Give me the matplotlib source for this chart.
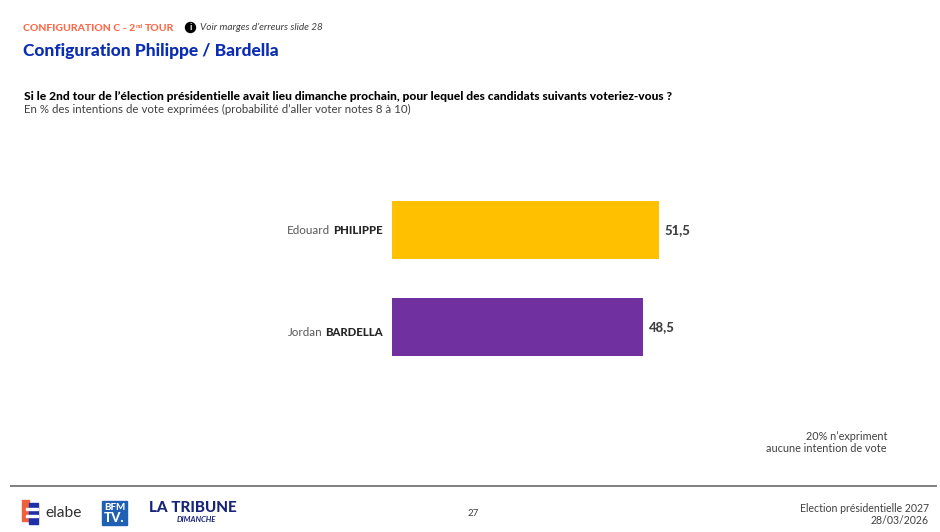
import matplotlib
matplotlib.use('Agg')
import matplotlib.pyplot as plt
from matplotlib.patches import Rectangle, Circle

first_names = ['Edouard', 'Jordan']
last_names = ['PHILIPPE', 'BARDELLA']
scores = [51.5, 48.5]
score_labels = ['51,5', '48,5']
bar_colors = ['#FFC000', '#7030A0']

plt.rcParams['font.family'] = ['Lato', 'DejaVu Sans']

W, H = 940, 532
fig = plt.figure(figsize=(W / 100, H / 100), dpi=100)

# overlay in pixel coords for the slide furniture
bg = fig.add_axes([0, 0, 1, 1])
bg.set_xlim(0, W)
bg.set_ylim(H, 0)
bg.axis('off')

# bars, 100 units = 518 px
ax = fig.add_axes([392 / W, 1 - 375.5 / H, 518.4 / W, 194 / H])
ax.barh(range(2), scores, height=0.598, color=bar_colors)
ax.set_xlim(0, 100)
ax.set_ylim(1.5, -0.5)
ax.axis('off')
ax.patch.set_alpha(0)

for i, val in enumerate(scores):
    ax.annotate(score_labels[i], (val, i), xytext=(4, 0), textcoords='offset points',
                va='center', ha='left', fontsize=9.4, fontweight='black', color='#404040')

# names: bold part right aligned, first name placed left of it
fig.canvas.draw()
rend = fig.canvas.get_renderer()
name_y = [231, 332]
for i, name in enumerate(last_names):
    t = bg.text(383, name_y[i], name, ha='right', va='center', fontsize=8.1, fontweight='black', color='#262626')
    w = t.get_window_extent(rend).width
    bg.text(383 - w - 3, name_y[i], first_names[i], ha='right', va='center', fontsize=8.4, color='#595959')

# header
bg.text(23, 28.5, 'CONFIGURATION C - 2', fontsize=7.5, fontweight='black', color='#FF6B4A', va='center')
bg.text(136, 26.5, 'nd', fontsize=4.6, fontweight='bold', color='#FF6B4A', va='center')
bg.text(145, 28.5, 'TOUR', fontsize=7.5, fontweight='black', color='#FF6B4A', va='center')
bg.add_patch(Circle((190.5, 27.5), 5, color='black'))
bg.text(190.5, 27.5, 'i', fontsize=6.5, fontweight='bold', color='white', ha='center', va='center')
bg.text(200, 27, "Voir marges d\u2019erreurs slide 28", fontsize=7.2, style='italic', color='#404040', va='center')
bg.text(23, 51, 'Configuration Philippe / Bardella', fontsize=12.55, fontweight='black', color='#0A2DB4', va='center')

bg.text(24, 97, "Si le 2nd tour de l\u2019\u00e9lection pr\u00e9sidentielle avait lieu dimanche prochain, "
        "pour lequel des candidats suivants voteriez-vous ?",
        fontsize=8.65, fontweight='black', color='black', va='center')
bg.text(24, 109, "En % des intentions de vote exprim\u00e9es (probabilit\u00e9 d\u2019aller voter notes 8 \u00e0 10)",
        fontsize=8.27, color='#404040', va='center')

# note
bg.text(887, 436.5, "20% n\u2019expriment", fontsize=7.8, color='#404040', ha='right', va='center')
bg.text(887, 449, 'aucune intention de vote', fontsize=7.8, color='#404040', ha='right', va='center')

# footer
bg.plot([11, 936], [486, 486], color='#7F7F7F', lw=1.4)
bg.text(473, 514, '27', fontsize=7, color='#404040', ha='center', va='center')
bg.text(929, 508.5, 'Election pr\u00e9sidentielle 2027', fontsize=7.6,
        color='#404040', ha='right', va='center')
bg.text(929, 520.5, '28/03/2026', fontsize=7.6, color='#404040', ha='right', va='center')

# elabe logo
bg.add_patch(Rectangle((22, 500), 7, 21, color='#F0603C'))
bg.add_patch(Rectangle((29, 503), 9, 21, color='#1F2FA8'))
for yy in (507.5, 514.5):
    bg.add_patch(Rectangle((26, yy), 12, 2.2, color='white'))
bg.text(45, 513, 'elabe', fontsize=11.2, color='#303030', va='center')

# BFM logo
bg.add_patch(Rectangle((102, 501), 25, 24, color='#1F5FB4'))
bg.text(114.5, 507.5, 'BFM', fontsize=7, fontweight='black', color='white', ha='center', va='center')
bg.text(114.5, 517.5, 'TV.', fontsize=9.5, fontweight='black', color='white', ha='center', va='center')

# La Tribune logo
bg.text(149, 508.5, 'LA TRIBUNE', fontsize=11, fontweight='black', color='#17247A', va='center')
bg.text(196, 519, 'DIMANCHE', fontsize=5.6, fontweight='bold', style='italic', color='#17247A', ha='center', va='center')

fig.savefig('out.png', dpi=100)
